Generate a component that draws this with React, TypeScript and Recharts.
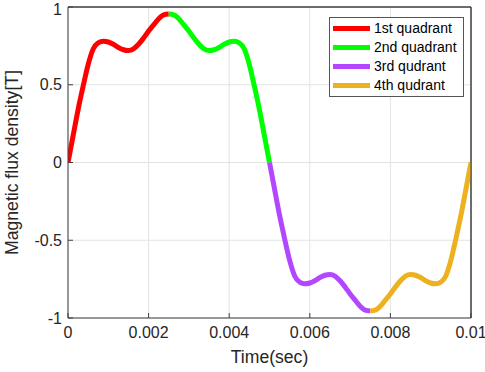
import React from 'react';
import {
  LineChart,
  Line,
  XAxis,
  YAxis,
  CartesianGrid,
  ReferenceLine,
  Legend,
  Label,
} from 'recharts';

// Time samples for each quadrant (seconds)
const q1Time = [0, 0.000125, 0.00025, 0.000375, 0.0005, 0.000625, 0.00075, 0.000875, 0.001, 0.001125, 0.00125, 0.001375, 0.0015, 0.001625, 0.00175, 0.001875, 0.002, 0.002125, 0.00225, 0.002375, 0.0025];
const q2Time = [0.0025, 0.002625, 0.00275, 0.002875, 0.003, 0.003125, 0.00325, 0.003375, 0.0035, 0.003625, 0.00375, 0.003875, 0.004, 0.004125, 0.00425, 0.004375, 0.0045, 0.004625, 0.00475, 0.004875, 0.005];
const q3Time = [0.005, 0.005125, 0.00525, 0.005375, 0.0055, 0.005625, 0.00575, 0.005875, 0.006, 0.006125, 0.00625, 0.006375, 0.0065, 0.006625, 0.00675, 0.006875, 0.007, 0.007125, 0.00725, 0.007375, 0.0075];
const q4Time = [0.0075, 0.007625, 0.00775, 0.007875, 0.008, 0.008125, 0.00825, 0.008375, 0.0085, 0.008625, 0.00875, 0.008875, 0.009, 0.009125, 0.00925, 0.009375, 0.0095, 0.009625, 0.00975, 0.009875, 0.01];

// Magnetic flux density [T]
const q1Flux = [0, 0.17, 0.34, 0.49, 0.63, 0.73, 0.77, 0.78, 0.775, 0.76, 0.74, 0.725, 0.72, 0.73, 0.76, 0.8, 0.845, 0.885, 0.925, 0.95, 0.955];
const q2Flux = [0.955, 0.95, 0.925, 0.885, 0.845, 0.8, 0.76, 0.73, 0.72, 0.725, 0.74, 0.76, 0.775, 0.78, 0.77, 0.73, 0.63, 0.49, 0.34, 0.17, 0];
const q3Flux = [0, -0.17, -0.34, -0.49, -0.63, -0.73, -0.77, -0.78, -0.775, -0.76, -0.74, -0.725, -0.72, -0.73, -0.76, -0.8, -0.845, -0.885, -0.925, -0.95, -0.955];
const q4Flux = [-0.955, -0.95, -0.925, -0.885, -0.845, -0.8, -0.76, -0.73, -0.72, -0.725, -0.74, -0.76, -0.775, -0.78, -0.77, -0.73, -0.63, -0.49, -0.34, -0.17, 0];

const xTicks = [0, 0.002, 0.004, 0.006, 0.008, 0.01];
const yTicks = [-1, -0.5, 0, 0.5, 1];

const seriesNames = ['1st quadrant', '2nd quadrant', '3rd qudrant', '4th qudrant'];
const seriesColors = ['#ff0000', '#00ff00', '#b347ff', '#edb120'];

const toRows = (times: number[], values: number[]) =>
  times.map((t, i) => ({ t, v: values[i] }));

const quadrants = [
  toRows(q1Time, q1Flux),
  toRows(q2Time, q2Flux),
  toRows(q3Time, q3Flux),
  toRows(q4Time, q4Flux),
];

const FONT = '"Liberation Sans", Arial, Helvetica, sans-serif';
const AXIS = '#404040';
const TEXT = '#262626';

const renderLegend = () => (
  <div
    style={{
      border: '1px solid #555',
      background: '#fff',
      padding: '1px 6px 1px 3px',
      fontFamily: FONT,
      fontSize: 14,
      color: '#000',
      lineHeight: '19px',
      whiteSpace: 'nowrap',
      display: 'inline-block',
    }}
  >
    {seriesNames.map((name, i) => (
      <div key={name} style={{ display: 'flex', alignItems: 'center' }}>
        <span
          style={{
            display: 'inline-block',
            width: 37,
            height: 5,
            background: seriesColors[i],
            marginRight: 4,
          }}
        />
        <span>{name}</span>
      </div>
    ))}
  </div>
);

export default function App() {
  return (
    <div style={{ position: 'absolute', left: 0, top: 0 }}>
      <LineChart
        width={485}
        height={372}
        margin={{ top: 6, right: 13, left: 0, bottom: 0 }}
        style={{ fontFamily: FONT }}
      >
        <CartesianGrid stroke="#e3e3e3" strokeWidth={1} />
        <XAxis
          dataKey="t"
          type="number"
          domain={[0, 0.01]}
          ticks={xTicks}
          tickFormatter={(v: number) => String(v)}
          height={54}
          stroke={AXIS}
          tickSize={-5}
          tickMargin={14}
          tick={{ fill: TEXT, fontSize: 16 }}
          allowDataOverflow
        >
          <Label
            value="Time(sec)"
            position="insideBottom"
            offset={9}
            style={{ fill: TEXT, fontSize: 17.6 }}
          />
        </XAxis>
        <XAxis
          xAxisId="top"
          orientation="top"
          type="number"
          domain={[0, 0.01]}
          ticks={xTicks}
          height={1}
          stroke={AXIS}
          tickSize={-5}
          tick={false}
          allowDataOverflow
        />
        <YAxis
          type="number"
          domain={[-1, 1]}
          ticks={yTicks}
          tickFormatter={(v: number) => String(v)}
          width={68}
          stroke={AXIS}
          tickSize={-5}
          tickMargin={11}
          tick={{ fill: TEXT, fontSize: 16 }}
          allowDataOverflow
        >
          <Label
            value="Magnetic flux density[T]"
            angle={-90}
            position="insideLeft"
            offset={12}
            style={{ fill: TEXT, fontSize: 17.6, textAnchor: 'middle' }}
          />
        </YAxis>
        <YAxis
          yAxisId="right"
          orientation="right"
          type="number"
          domain={[-1, 1]}
          ticks={yTicks}
          width={1}
          stroke={AXIS}
          tickSize={-5}
          tick={false}
          allowDataOverflow
        />
        <ReferenceLine y={1} stroke={AXIS} />
        <ReferenceLine x={0.01} stroke={AXIS} />
        {quadrants.map((rows, i) => (
          <Line
            key={seriesNames[i]}
            data={rows}
            dataKey="v"
            name={seriesNames[i]}
            type="monotone"
            stroke={seriesColors[i]}
            strokeWidth={5}
            dot={false}
            activeDot={false}
            isAnimationActive={false}
          />
        ))}
        <Legend
          layout="horizontal"
          verticalAlign="middle"
          align="center"
          content={renderLegend}
          wrapperStyle={{ left: 329, top: 17, width: 'auto', height: 'auto' }}
        />
      </LineChart>
    </div>
  );
}
